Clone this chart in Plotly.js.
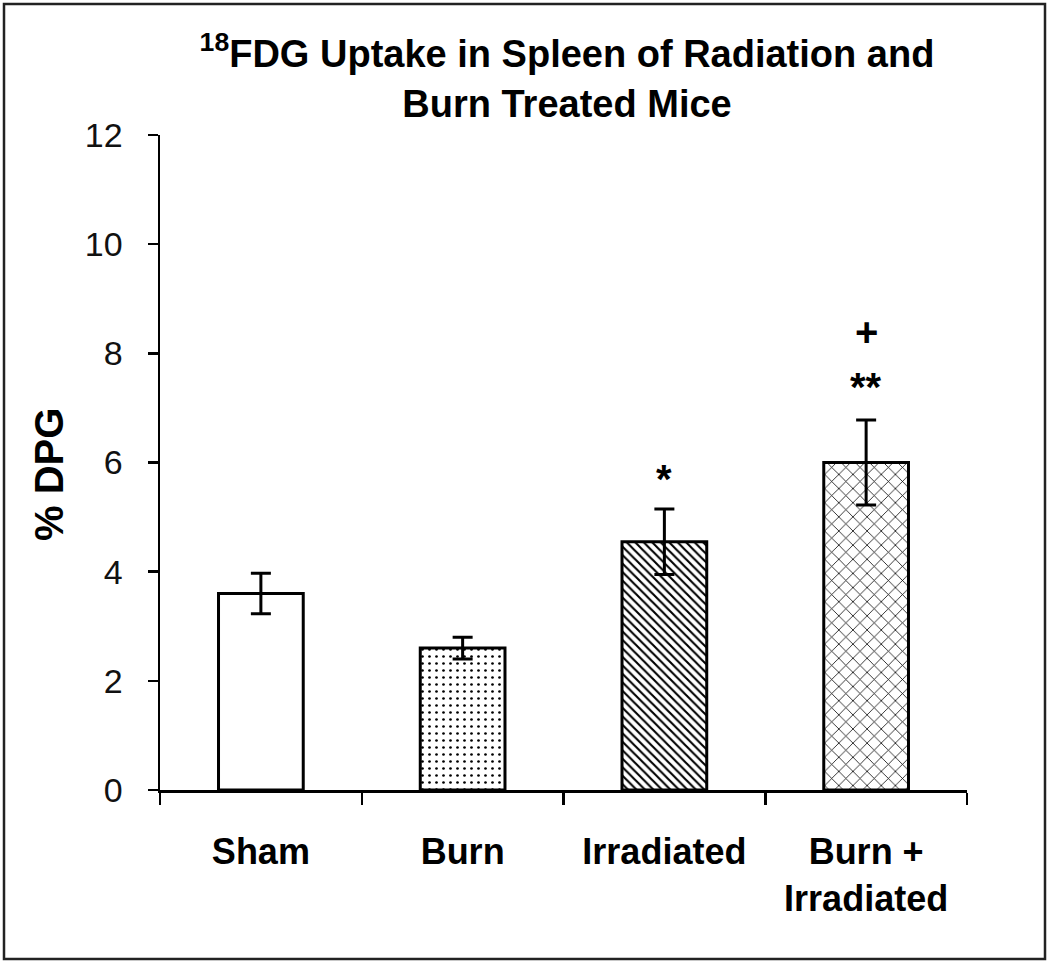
<!DOCTYPE html>
<html>
<head>
<meta charset="utf-8">
<script src="https://cdn.plot.ly/plotly-3.0.1.min.js"></script>
<style>
html,body{margin:0;padding:0;background:#fff;}
#chart{width:1050px;height:963px;}
</style>
</head>
<body>
<div id="chart"></div>
<script>
const categories = ["Sham", "Burn", "Irradiated", "Burn +<br>Irradiated"];
const values = [3.6, 2.6, 4.55, 6.0];
const errors = [0.37, 0.2, 0.6, 0.78];
const patterns = ["", ".", "\\", "x"];
const sigLabels = ["", "", "*", "**"];
const extraLabels = ["", "", "", "+"];
const yTicks = [0, 2, 4, 6, 8, 10, 12];

const FONT = "Liberation Sans, Arial, sans-serif";

const trace = {
  type: "bar",
  x: categories,
  y: values,
  width: 0.42,
  marker: {
    color: "#ffffff",
    line: {color: "#000000", width: 3},
    pattern: {
      shape: patterns,
      fgcolor: "#000000",
      bgcolor: "#ffffff",
      size: [8, 7, 6, 10],
      solidity: [0.2, 0.12, 0.35, 0.15],
      fillmode: "replace"
    }
  },
  error_y: {type: "data", array: errors, visible: true, color: "#000000", thickness: 3, width: 10},
  hoverinfo: "skip",
  showlegend: false
};

const annotations = [];
categories.forEach((c, i) => {
  if (sigLabels[i]) {
    annotations.push({x: c, y: values[i] + errors[i], xref: "x", yref: "y", text: "<b>" + sigLabels[i] + "</b>",
      showarrow: false, yanchor: "middle", yshift: sigLabels[i].length > 1 ? 33 : 30,
      font: {family: FONT, size: 40, color: "#000"}});
  }
  if (extraLabels[i]) {
    annotations.push({x: c, y: values[i] + errors[i], xref: "x", yref: "y", text: "<b>" + extraLabels[i] + "</b>",
      showarrow: false, yanchor: "middle", yshift: 88, font: {family: FONT, size: 40, color: "#000"}});
  }
});
annotations.push({
  xref: "paper", yref: "paper", x: -111/807, y: 315/655, textangle: -90,
  text: "<b>% DPG</b>", showarrow: false, xanchor: "center", yanchor: "middle",
  font: {family: FONT, size: 40, color: "#000"}
});

const layout = {
  width: 1050,
  height: 963,
  margin: {l: 160, r: 83, t: 135, b: 173},
  paper_bgcolor: "#ffffff",
  plot_bgcolor: "#ffffff",
  title: {
    text: "<b><sup>18</sup>FDG Uptake in Spleen of Radiation and<br>Burn Treated Mice</b>",
    x: 0.54, xanchor: "center", xref: "container",
    y: 0.93, yanchor: "middle", yref: "container",
    font: {family: FONT, size: 38, color: "#000"}
  },
  xaxis: {
    type: "category",
    showline: true, linecolor: "#000", linewidth: 2.5,
    ticks: "outside", tickson: "boundaries", ticklen: 12, tickwidth: 2.5, tickcolor: "#000",
    tickfont: {family: FONT, size: 36, color: "#000", weight: "bold"},
    ticklabelstandoff: 28,
    showgrid: false, zeroline: false,
    fixedrange: true
  },
  yaxis: {
    range: [0, 12],
    tickvals: yTicks,
    ticktext: yTicks.map(String),
    showline: true, linecolor: "#000", linewidth: 2.5,
    ticks: "outside", ticklen: 10, tickwidth: 2.5, tickcolor: "#000",
    tickfont: {family: FONT, size: 34, color: "#111"},
    ticklabelstandoff: 18,
    showgrid: false, zeroline: false,
    fixedrange: true
  },
  annotations: annotations,
  shapes: [{
    type: "rect", xref: "x domain", yref: "y domain",
    x0: -156/807, x1: 1 + 78/807, y0: -169/655, y1: 1 + 131/655,
    line: {color: "#222", width: 2.5}, layer: "below"
  }]
};

Plotly.newPlot("chart", [trace], layout, {displayModeBar: false, staticPlot: true});
</script>
</body>
</html>
